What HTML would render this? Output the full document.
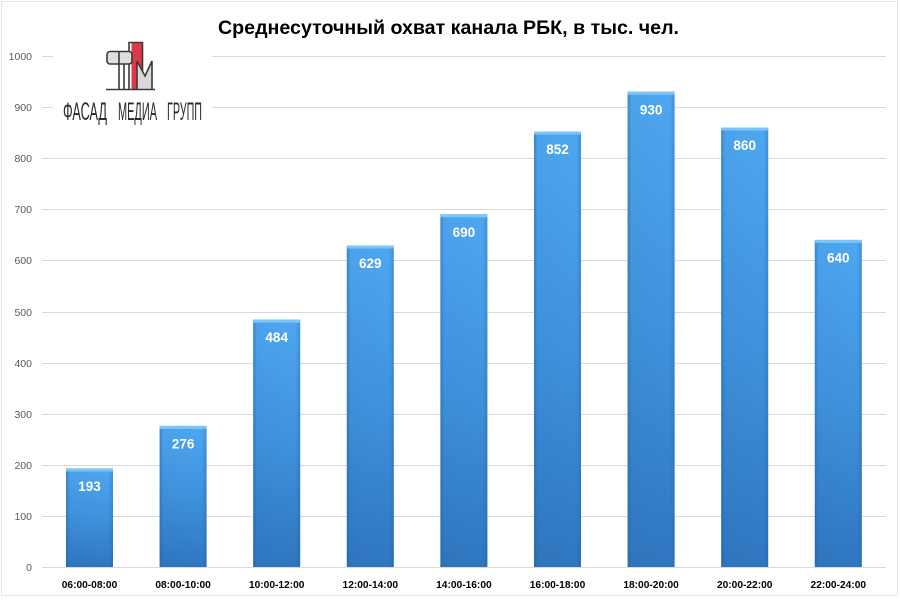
<!DOCTYPE html>
<html>
<head>
<meta charset="utf-8">
<style>
html,body{margin:0;padding:0;background:#fff;}
svg{display:block;}
</style>
</head>
<body>
<svg width="900" height="600" viewBox="0 0 900 600" xmlns="http://www.w3.org/2000/svg">
<defs>
<linearGradient id="gv" x1="0" y1="0" x2="0" y2="1">
<stop offset="0" stop-color="#4ea7f0"/>
<stop offset="0.5" stop-color="#3f92dc"/>
<stop offset="1" stop-color="#2f76bf"/>
</linearGradient>
<linearGradient id="gh" x1="0" y1="0" x2="1" y2="0">
<stop offset="0" stop-color="#1f5a99" stop-opacity="0.45"/>
<stop offset="0.08" stop-color="#1f5a99" stop-opacity="0.05"/>
<stop offset="0.9" stop-color="#1f5a99" stop-opacity="0"/>
<stop offset="1" stop-color="#1f5a99" stop-opacity="0.3"/>
</linearGradient>
</defs>
<rect x="1.5" y="1.5" width="896" height="594" fill="#fff" stroke="#e6e6e6" stroke-width="1"/>
<!-- gridlines -->
<g stroke="#d9d9d9" stroke-width="1">
<line x1="42" y1="56.5" x2="886" y2="56.5"/>
<line x1="42" y1="107.5" x2="886" y2="107.5"/>
<line x1="42" y1="158.5" x2="886" y2="158.5"/>
<line x1="42" y1="209.5" x2="886" y2="209.5"/>
<line x1="42" y1="260.5" x2="886" y2="260.5"/>
<line x1="42" y1="312.5" x2="886" y2="312.5"/>
<line x1="42" y1="363.5" x2="886" y2="363.5"/>
<line x1="42" y1="414.5" x2="886" y2="414.5"/>
<line x1="42" y1="465.5" x2="886" y2="465.5"/>
<line x1="42" y1="516.5" x2="886" y2="516.5"/>
<line x1="42" y1="567.5" x2="886" y2="567.5"/>
</g>
<!-- y labels -->
<g font-family="Liberation Sans, sans-serif" font-size="10.5" fill="#595959" text-anchor="end">
<text x="32" y="60">1000</text>
<text x="32" y="111">900</text>
<text x="32" y="162">800</text>
<text x="32" y="213">700</text>
<text x="32" y="264">600</text>
<text x="32" y="316">500</text>
<text x="32" y="367">400</text>
<text x="32" y="418">300</text>
<text x="32" y="469">200</text>
<text x="32" y="520">100</text>
<text x="32" y="571">0</text>
</g>
<!-- logo background -->
<rect x="53" y="34" width="159" height="92" fill="#fff"/>
<!-- logo icon -->
<g stroke="#3a3a3a" stroke-width="1.6" fill="none">
<rect x="131.5" y="42" width="11" height="47.5" fill="#e0384a" stroke="none"/>
<polyline points="129,89.5 129,42.5 142.5,42.5 142.5,89.5"/>
<path d="M137,89.5 L137,61 L145,75 L152,61 L152,89.5 Z" fill="#d8d8d8" stroke="none"/>
<polyline points="137,89.5 137,61 145,76 152,61 152,89.5"/>
<rect x="107" y="51.5" width="25" height="12.5" rx="3" fill="#dedede"/>
<line x1="119" y1="51.5" x2="119" y2="89.5"/>
<line x1="124" y1="64" x2="124" y2="89.5"/>
<line x1="106" y1="89.5" x2="155" y2="89.5"/>
</g>
<g font-family="Liberation Sans, DejaVu Sans, sans-serif" font-size="25" fill="#2a2a2a">
<text x="63" y="120" textLength="44" lengthAdjust="spacingAndGlyphs">ФАСАД</text>
<text x="118" y="120" textLength="39" lengthAdjust="spacingAndGlyphs">МЕДИА</text>
<text x="167" y="120" textLength="35" lengthAdjust="spacingAndGlyphs">ГРУПП</text>
</g>
<!-- title -->
<text x="448.5" y="34" font-family="Liberation Sans, sans-serif" font-size="19" font-weight="bold" fill="#000" text-anchor="middle" textLength="461" lengthAdjust="spacingAndGlyphs">Среднесуточный охват канала РБК, в тыс. чел.</text>
<!-- bars -->
<g id="bars">
<g>
<rect x="66" y="468.4" width="47" height="98.6" fill="url(#gv)"/>
<rect x="66" y="468.4" width="47" height="98.6" fill="url(#gh)"/>
<rect x="66" y="468.4" width="47" height="3" fill="#7cc6f7"/>
</g>
<g>
<rect x="159.6" y="425.9" width="47" height="141.1" fill="url(#gv)"/>
<rect x="159.6" y="425.9" width="47" height="141.1" fill="url(#gh)"/>
<rect x="159.6" y="425.9" width="47" height="3" fill="#7cc6f7"/>
</g>
<g>
<rect x="253.2" y="319.6" width="47" height="247.4" fill="url(#gv)"/>
<rect x="253.2" y="319.6" width="47" height="247.4" fill="url(#gh)"/>
<rect x="253.2" y="319.6" width="47" height="3" fill="#7cc6f7"/>
</g>
<g>
<rect x="346.8" y="245.5" width="47" height="321.5" fill="url(#gv)"/>
<rect x="346.8" y="245.5" width="47" height="321.5" fill="url(#gh)"/>
<rect x="346.8" y="245.5" width="47" height="3" fill="#7cc6f7"/>
</g>
<g>
<rect x="440.4" y="214.3" width="47" height="352.7" fill="url(#gv)"/>
<rect x="440.4" y="214.3" width="47" height="352.7" fill="url(#gh)"/>
<rect x="440.4" y="214.3" width="47" height="3" fill="#7cc6f7"/>
</g>
<g>
<rect x="534" y="131.5" width="47" height="435.5" fill="url(#gv)"/>
<rect x="534" y="131.5" width="47" height="435.5" fill="url(#gh)"/>
<rect x="534" y="131.5" width="47" height="3" fill="#7cc6f7"/>
</g>
<g>
<rect x="627.6" y="91.7" width="47" height="475.3" fill="url(#gv)"/>
<rect x="627.6" y="91.7" width="47" height="475.3" fill="url(#gh)"/>
<rect x="627.6" y="91.7" width="47" height="3" fill="#7cc6f7"/>
</g>
<g>
<rect x="721.2" y="127.5" width="47" height="439.5" fill="url(#gv)"/>
<rect x="721.2" y="127.5" width="47" height="439.5" fill="url(#gh)"/>
<rect x="721.2" y="127.5" width="47" height="3" fill="#7cc6f7"/>
</g>
<g>
<rect x="814.8" y="239.9" width="47" height="327.1" fill="url(#gv)"/>
<rect x="814.8" y="239.9" width="47" height="327.1" fill="url(#gh)"/>
<rect x="814.8" y="239.9" width="47" height="3" fill="#7cc6f7"/>
</g>
</g>
<!-- value labels -->
<g font-family="Liberation Sans, sans-serif" font-size="13.5" font-weight="bold" fill="#fff" text-anchor="middle">
<text x="89.5" y="491">193</text>
<text x="183.1" y="448.5">276</text>
<text x="276.7" y="342.2">484</text>
<text x="370.3" y="268.1">629</text>
<text x="463.9" y="236.9">690</text>
<text x="557.5" y="154.1">852</text>
<text x="651.1" y="114.3">930</text>
<text x="744.7" y="150.1">860</text>
<text x="838.3" y="262.5">640</text>
</g>
<!-- x labels -->
<g font-family="Liberation Sans, sans-serif" font-size="10.2" font-weight="bold" fill="#000" text-anchor="middle">
<text x="89.5" y="588">06:00-08:00</text>
<text x="183.1" y="588">08:00-10:00</text>
<text x="276.7" y="588">10:00-12:00</text>
<text x="370.3" y="588">12:00-14:00</text>
<text x="463.9" y="588">14:00-16:00</text>
<text x="557.5" y="588">16:00-18:00</text>
<text x="651.1" y="588">18:00-20:00</text>
<text x="744.7" y="588">20:00-22:00</text>
<text x="838.3" y="588">22:00-24:00</text>
</g>
</svg>
</body>
</html>
